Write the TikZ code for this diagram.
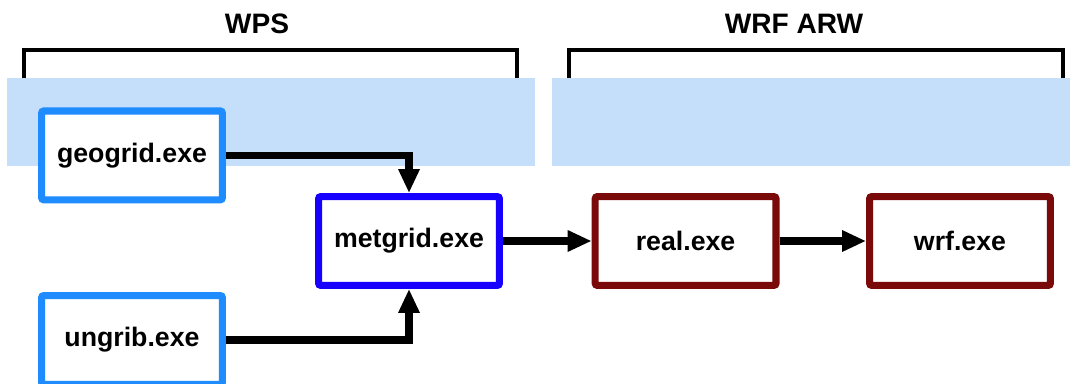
\documentclass[tikz,border=0pt]{standalone}
\usepackage{fontspec}
\setmainfont{Liberation Sans}
\usepackage{tikz}
\usetikzlibrary{arrows.meta}
\definecolor{bandblue}{RGB}{197,223,251}
\definecolor{wpsblue}{RGB}{30,139,255}
\definecolor{metblue}{RGB}{24,0,255}
\definecolor{wrfred}{RGB}{122,10,10}

\begin{document}
\begin{tikzpicture}[inner sep=0pt,
    exebox/.style={draw,line width=5pt,fill=white,rounded corners=1.5pt,
        minimum width=4.52cm,minimum height=2.22cm,font=\fontsize{19}{22}\selectfont\bfseries},
    flow/.style={line width=5pt,-{Triangle[length=0.6cm,width=0.5cm]}},
    brace/.style={line width=2.5pt},
    title/.style={font=\fontsize{20}{24}\selectfont\bfseries}]
        \useasboundingbox (0,0) rectangle (26.75,9.575);
\fill[bandblue] (0.175,5.425) rectangle (13.375,7.625);
\fill[bandblue] (13.8,5.425) rectangle (26.75,7.625);
\draw[brace] (0.6,7.625) -- (0.6,8.325) -- (12.925,8.325) -- (12.925,7.625);
\draw[brace] (14.225,7.625) -- (14.225,8.325) -- (26.575,8.325) -- (26.575,7.625);
\draw (6.425,8.975) node[title](wps) {WPS};
\draw (19.85,8.975) node[title](arw) {WRF ARW};
\draw (3.30,5.69) node[exebox,draw=wpsblue](geogrid) {geogrid.exe};
\draw (3.30,1.075) node[exebox,draw=wpsblue](ungrib) {ungrib.exe};
\draw (10.225,3.55) node[exebox,draw=metblue](metgrid) {metgrid.exe};
\draw (17.14,3.55) node[exebox,draw=wrfred](real) {real.exe};
\draw (24.0,3.55) node[exebox,draw=wrfred](wrf) {wrf.exe};
\draw[flow] (geogrid) -| (metgrid);
\draw[flow] (ungrib) -| (metgrid);
\draw[flow] (metgrid) -- (real);
\draw[flow] (real) -- (wrf);
    \end{tikzpicture}
\end{document}
